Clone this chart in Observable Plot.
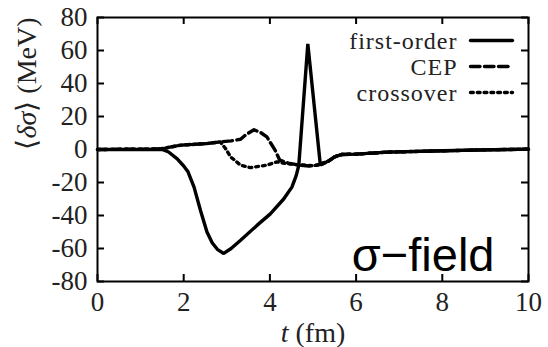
<!DOCTYPE html>
<html>
<head>
<meta charset="utf-8">
<script src="https://cdn.jsdelivr.net/npm/d3@7"></script>
<script src="https://cdn.jsdelivr.net/npm/@observablehq/plot@0.6"></script>
<style>
  html, body { margin: 0; padding: 0; background: #fff; }
  svg { display: block; }
</style>
</head>
<body>
<script>
// Time axis (fm) and <delta sigma> (MeV) for the three transition scenarios
const tFirst = [0, 1.5, 1.65, 1.85, 2.0, 2.1, 2.24, 2.39, 2.54, 2.66, 2.78, 2.93, 3.1, 3.32, 3.7, 4.01, 4.32, 4.51, 4.61, 4.67, 4.88, 5.17, 5.36, 5.5, 5.67, 6.0, 6.72, 8.0, 9.0, 10];
const vFirst = [0, 0, -1.5, -5.7, -10, -13.5, -22.8, -37, -50, -56.5, -60.5, -63, -60, -55, -46, -39, -30, -22.8, -15.8, -9.7, 64, -9.3, -7, -4.5, -3, -2.8, -1.6, -0.8, -0.2, 0.2];

const tCEP = [0, 1.46, 1.92, 2.54, 2.85, 3.1, 3.32, 3.43, 3.63, 3.8, 3.93, 4.12, 4.23, 4.46, 4.7, 4.9, 5.1, 5.25, 5.36, 5.5, 5.67, 6.0, 6.72, 8.0, 9.0, 10];
const vCEP = [0, 0.3, 2.6, 3.6, 4.6, 5.2, 6.2, 8.7, 12, 10, 7.6, -0.4, -6.5, -8.5, -9.5, -10, -9.5, -8, -7, -4.5, -3, -2.8, -1.6, -0.8, -0.2, 0.2];

const tCross = [0, 1.46, 1.92, 2.54, 2.85, 2.97, 3.09, 3.32, 3.55, 3.93, 4.16, 4.3, 4.6, 5.0, 5.2, 5.36, 5.5, 5.67, 6.0, 6.72, 8.0, 9.0, 10];
const vCross = [0, 0.3, 2.6, 3.6, 4.6, 0.6, -4.5, -9.5, -11, -9.5, -7.5, -8.2, -9.2, -9.8, -9, -7, -4.5, -3, -2.8, -1.6, -0.8, -0.2, 0.2];

const seriesNames = ["first-order", "CEP", "crossover"];
const xTicks = [0, 2, 4, 6, 8, 10];
const yTicks = [-80, -60, -40, -20, 0, 20, 40, 60, 80];
const panelLabel = "σ−field";

const toRows = (ts, vs) => ts.map((t, i) => ({t, v: vs[i]}));
const firstRows = toRows(tFirst, vFirst);
const cepRows = toRows(tCEP, vCEP);
const crossRows = toRows(tCross, vCross);

// dash patterns per series: solid, dashed, dotted
const dashes = {"first-order": null, "CEP": "9.5,4.5", "crossover": "2.8,4"};

const W = 548, H = 347;
const mL = 97, mR = 20, mT = 17, mB = 66;
const plotW = W - mL - mR, plotH = H - mT - mB;
const tickLen = 7;
const serif = "'Liberation Serif', 'Times New Roman', serif";
const sans = "'Liberation Sans', Arial, sans-serif";
const ink = "#222";

const lineShape = {
  draw(context, l) { context.moveTo(0, 0); context.lineTo(0, -l); }
};

const legendMarks = seriesNames.flatMap((name, i) => [
  Plot.text([name], {
    text: d => d, frameAnchor: "top-right", textAnchor: "end", lineAnchor: "middle",
    dx: -71, dy: 24 + i * 26, fontSize: 24, fill: ink
  }),
  Plot.vector([name], {
    frameAnchor: "top-right", dx: -16, dy: 23 + i * 26,
    rotate: 90, length: 42, anchor: "end", shape: lineShape,
    stroke: "black", strokeWidth: 3.4, strokeDasharray: dashes[name]
  })
]);

const chart = Plot.plot({
  width: W, height: H,
  marginLeft: mL, marginRight: mR, marginTop: mT, marginBottom: mB,
  x: {domain: [0, 10]},
  y: {domain: [-80, 80]},
  style: {background: "white", overflow: "visible"},
  marks: [
    Plot.line(crossRows, {x: "t", y: "v", stroke: "black", strokeWidth: 3.4, strokeDasharray: dashes["crossover"]}),
    Plot.line(cepRows, {x: "t", y: "v", stroke: "black", strokeWidth: 3.4, strokeDasharray: dashes["CEP"]}),
    Plot.line(firstRows, {x: "t", y: "v", stroke: "black", strokeWidth: 3.4, strokeLinejoin: "miter"}),

    // inward ticks on all four sides
    Plot.tickX(xTicks, {x: d => d, insetTop: plotH - tickLen, stroke: "black", strokeWidth: 2}),
    Plot.tickX(xTicks, {x: d => d, insetBottom: plotH - tickLen, stroke: "black", strokeWidth: 2}),
    Plot.tickY(yTicks, {y: d => d, insetRight: plotW - tickLen, stroke: "black", strokeWidth: 2}),
    Plot.tickY(yTicks, {y: d => d, insetLeft: plotW - tickLen, stroke: "black", strokeWidth: 2}),

    Plot.axisX(xTicks, {tickSize: 0, tickPadding: 10, label: null, tickFormat: d => String(d), fontSize: 27, fill: ink}),
    Plot.axisY(yTicks, {tickSize: 0, tickPadding: 10, label: null, tickFormat: d => String(d), fontSize: 27, fill: ink}),

    Plot.frame({stroke: "black", strokeWidth: 2}),

    // axis titles
    Plot.text(["t (fm)"], {text: d => d, frameAnchor: "bottom", lineAnchor: "middle", dy: 51.5, fontSize: 28, fill: ink}),
    Plot.text(["⟨δσ⟩ (MeV)"], {text: d => d, frameAnchor: "left", lineAnchor: "middle", rotate: -90, dx: -70.5, fontSize: 28, fill: ink}),

    // panel label
    Plot.text([panelLabel], {text: d => d, frameAnchor: "bottom-right", textAnchor: "end", lineAnchor: "bottom",
      dx: -34, dy: -10.4, fontSize: 47, fill: "black"}),

    ...legendMarks
  ]
});

// typefaces: serif for the axes and legend, sans for the panel label (set inline,
// together with the size, on each text element); italic math symbols in the axis titles
d3.select(chart).selectAll("text").each(function() {
  const node = d3.select(this);
  const s = node.text();
  let el = this, size = null;
  while (el && el !== chart && size == null) {
    size = el.getAttribute && el.getAttribute("font-size");
    el = el.parentNode;
  }
  node.style("font-family", s === panelLabel ? sans : serif);
  if (size != null) node.style("font-size", `${size}px`);
  if (seriesNames.includes(s)) node.style("letter-spacing", "1px");
  if (s === "t (fm)") {
    node.text(null);
    node.append("tspan").style("font-style", "italic").text("t");
    node.append("tspan").text(" (fm)");
  } else if (s === "⟨δσ⟩ (MeV)") {
    node.text(null);
    node.append("tspan").text("⟨");
    node.append("tspan").style("font-style", "italic").text("δσ");
    node.append("tspan").text("⟩ (MeV)");
  }
});

document.body.appendChild(chart);
</script>
</body>
</html>
